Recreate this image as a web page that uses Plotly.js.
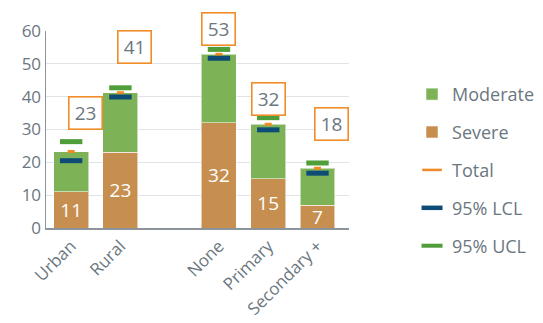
<!DOCTYPE html>
<html><head><meta charset="utf-8">
<script src="https://cdn.plot.ly/plotly-3.0.1.min.js"></script>
<style>body{margin:0;background:#fff}#c{width:543px;height:323px}</style>
</head><body><div id="c"></div>
<script>
// Data
const categories = ['Urban', 'Rural', 'None', 'Primary', 'Secondary +'];
const severe = [11, 23, 32, 15, 7];
const moderate = [12.3, 18.2, 20.9, 16.6, 11.2];
const total = [23.3, 41.2, 52.9, 31.6, 18.2];
const totalLabels = ['23', '41', '53', '32', '18'];
const lcl = [20.5, 39.9, 51.7, 29.9, 16.7];
const ucl = [26.3, 42.7, 54.4, 33.6, 19.8];
const axisOrder = ['Urban', 'Rural', ' ', 'None', 'Primary', 'Secondary +'];
const yTicks = [0, 10, 20, 30, 40, 50, 60];

// Label box placement (pixels, relative to bar top)
const labelDx = [14, 14, 0, 0, 14];
const labelDy = [39, 46, 25, 25, 44];

const gray = '#6b7780';
const font = 'Open Sans, sans-serif';
const cOrange = '#f08a24', cBlue = '#0e4c75', cGreen = '#4f9e3a';

const traces = [
  {type: 'bar', name: 'Severe', x: categories, y: severe, text: severe.map(String),
   textposition: 'inside', insidetextanchor: 'middle', textangle: 0, constraintext: 'none',
   textfont: {color: '#ffffff', size: 19, family: font},
   marker: {color: '#c68f50', line: {color: 'rgba(255,255,255,0.55)', width: 1}},
   legendrank: 2, legendgroup: 'b', hoverinfo: 'skip'},
  {type: 'bar', name: 'Moderate', x: categories, y: moderate,
   marker: {color: '#7db356', line: {color: 'rgba(255,255,255,0.55)', width: 1}},
   legendrank: 1, legendgroup: 'a', hoverinfo: 'skip'},
  {type: 'scatter', mode: 'markers', name: 'Total', x: categories, y: total,
   marker: {symbol: 'line-ew', size: 5, line: {color: cOrange, width: 3}},
   showlegend: false, hoverinfo: 'skip'},
  {type: 'scatter', mode: 'markers', name: '95% LCL', x: categories, y: lcl,
   marker: {symbol: 'line-ew', size: 16, line: {color: cBlue, width: 5}},
   showlegend: false, hoverinfo: 'skip'},
  {type: 'scatter', mode: 'markers', name: '95% UCL', x: categories, y: ucl,
   marker: {symbol: 'line-ew', size: 16, line: {color: cGreen, width: 5}},
   showlegend: false, hoverinfo: 'skip'},
  // legend entries with the reference's legend symbol sizes
  {type: 'scatter', mode: 'markers', name: 'Total', x: [null], y: [null],
   marker: {symbol: 'line-ew', size: 14, line: {color: cOrange, width: 2.5}},
   legendrank: 3, legendgroup: 'c', hoverinfo: 'skip'},
  {type: 'scatter', mode: 'markers', name: '95% LCL', x: [null], y: [null],
   marker: {symbol: 'line-ew', size: 15, line: {color: cBlue, width: 4.5}},
   legendrank: 4, legendgroup: 'd', hoverinfo: 'skip'},
  {type: 'scatter', mode: 'markers', name: '95% UCL', x: [null], y: [null],
   marker: {symbol: 'line-ew', size: 15, line: {color: cGreen, width: 4}},
   legendrank: 5, legendgroup: 'e', hoverinfo: 'skip'}
];

const annotations = categories.map((c, i) => ({
  x: c, y: total[i], xref: 'x', yref: 'y', text: totalLabels[i], showarrow: false,
  xshift: labelDx[i], yshift: labelDy[i], width: 30, height: 29, borderpad: 1,
  bordercolor: '#f28c28', borderwidth: 1.6, bgcolor: '#ffffff',
  font: {size: 19, color: gray, family: font}
}));

const layout = {
  width: 543, height: 323, autosize: false,
  margin: {l: 46, r: 194, t: 31, b: 95, autoexpand: false},
  paper_bgcolor: '#ffffff', plot_bgcolor: '#ffffff',
  barmode: 'stack', bargap: 0.29,
  font: {family: font, color: gray, size: 17},
  showlegend: true,
  legend: {x: 1.208, xanchor: 'left', y: 0.772, yanchor: 'top', traceorder: 'grouped',
           tracegroupgap: 11.5, font: {size: 18, color: gray, family: font}},
  xaxis: {type: 'category', categoryorder: 'array', categoryarray: axisOrder,
          tickangle: -45, showline: true, linecolor: '#8c959c', linewidth: 1.5,
          ticks: '', tickfont: {size: 17, color: gray}, fixedrange: true},
  yaxis: {range: [0, 60], tickvals: yTicks, showline: true, linecolor: '#8c959c', linewidth: 1.5,
          gridcolor: '#dfe4e8', gridwidth: 1.2, zeroline: false, ticks: '',
          tickfont: {size: 17, color: gray}, fixedrange: true},
  annotations: annotations
};

Plotly.newPlot('c', traces, layout, {displayModeBar: false, staticPlot: true});
</script>
</body></html>
